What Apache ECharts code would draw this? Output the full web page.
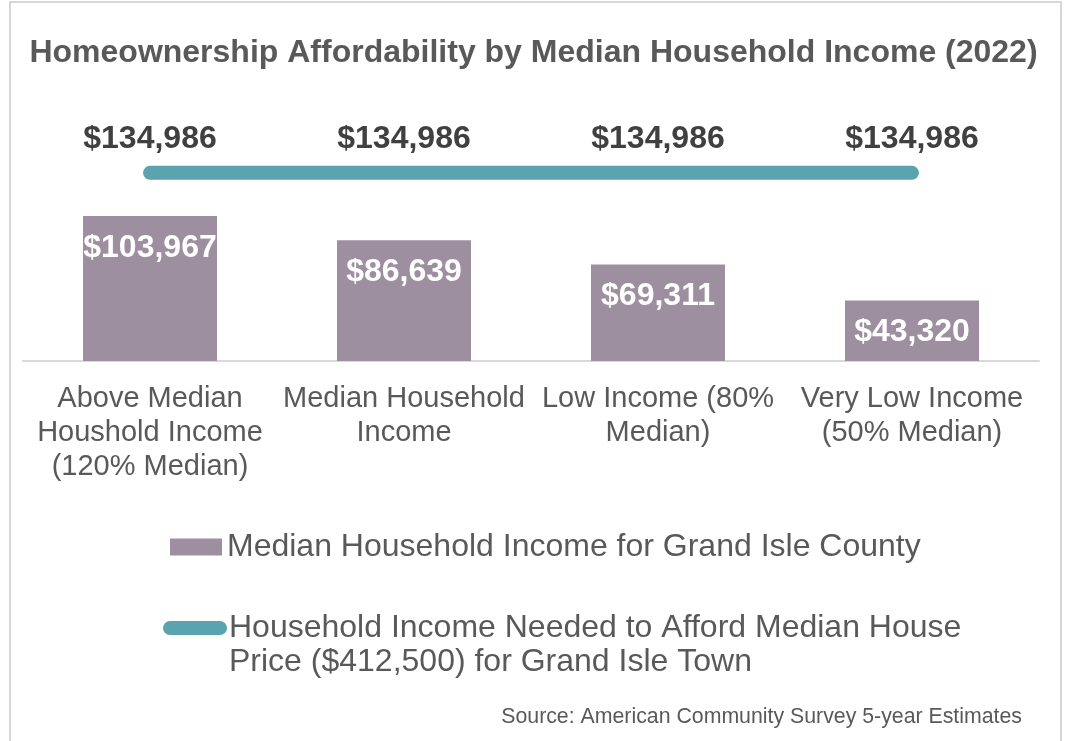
<!DOCTYPE html>
<html>
<head>
<meta charset="utf-8">
<script src="https://cdn.jsdelivr.net/npm/echarts@6/dist/echarts.min.js"></script>
<style>
  html, body { margin: 0; padding: 0; background: #fff; }
  #chart { width: 1067px; height: 741px; }
</style>
</head>
<body>
<div id="chart"></div>
<script>
// categories (x axis)
var categories = [
  'Above Median\nHoushold Income\n(120% Median)',
  'Median Household\nIncome',
  'Low Income (80%\nMedian)',
  'Very Low Income\n(50% Median)'
];
// median household income for the county
var incomeValues = [103967, 86639, 69311, 43320];
// income needed to afford the median house
var neededValues = [134986, 134986, 134986, 134986];

var barName = 'Median Household Income for Grand Isle County';
var lineName = 'Household Income Needed to Afford Median House Price ($412,500) for Grand Isle Town';

function money(v) {
  return '$' + v.toLocaleString('en-US');
}

var font = '"Liberation Sans", Arial, sans-serif';

var chart = echarts.init(document.getElementById('chart'));
var option = {
  animation: false,
  textStyle: { fontFamily: font },
  title: {
    text: 'Homeownership Affordability by Median Household Income (2022)',
    left: 'center',
    top: 32,
    textStyle: { fontFamily: font, fontSize: 32, fontWeight: 'bold', color: '#595959' }
  },
  graphic: [
    {
      type: 'rect',
      shape: { x: 10, y: 2, width: 1051, height: 800 },
      style: { fill: 'none', stroke: '#DAD5DC', lineWidth: 2 },
      silent: true
    },
    {
      type: 'text',
      right: 45,
      top: 707,
      style: {
        text: 'Source: American Community Survey 5-year Estimates',
        fontFamily: font,
        fontSize: 21.3,
        fill: '#595959'
      }
    }
  ],
  legend: [
    {
      left: 165,
      top: 525,
      itemWidth: 52,
      itemHeight: 17,
      itemGap: 6,
      data: [{ name: barName, icon: 'rect' }],
      textStyle: { fontFamily: font, fontSize: 32, color: '#595959', lineHeight: 34 }
    },
    {
      left: 158,
      top: 572,
      itemWidth: 64,
      itemHeight: 14,
      itemGap: 0,
      data: [{ name: lineName, icon: 'path://M7,0 L57,0 A7,7 0 0 1 57,14 L7,14 A7,7 0 0 1 7,0 Z' }],
      formatter: function (name) {
        // blank first line keeps the icon level with the first text line
        return '\n' + name.replace(' Price', '\nPrice');
      },
      textStyle: { fontFamily: font, fontSize: 32, color: '#595959', lineHeight: 34, padding: [0, 0, 0, -3] }
    }
  ],
  grid: { left: 23, right: 28, top: 131, bottom: 380, containLabel: false },
  xAxis: {
    type: 'category',
    data: categories,
    axisLine: { lineStyle: { color: '#D9D9D9', width: 2 } },
    axisTick: { show: false },
    axisLabel: {
      interval: 0,
      margin: 21,
      fontFamily: font,
      fontSize: 29,
      lineHeight: 34,
      color: '#595959'
    }
  },
  yAxis: {
    type: 'value',
    min: 0,
    max: 165000,
    show: false,
    splitLine: { show: false }
  },
  series: [
    {
      name: barName,
      type: 'bar',
      data: incomeValues,
      barWidth: 134,
      itemStyle: { color: '#9E8FA0' },
      label: {
        show: true,
        position: 'insideTop',
        distance: 16,
        formatter: function (p) { return money(p.value); },
        fontFamily: font,
        fontSize: 32,
        fontWeight: 'bold',
        color: '#FFFFFF'
      }
    },
    {
      name: lineName,
      type: 'line',
      data: neededValues,
      symbol: 'circle',
      symbolSize: 1,
      showSymbol: true,
      lineStyle: { color: '#5BA3AE', width: 14, cap: 'round' },
      itemStyle: { color: '#5BA3AE' },
      label: {
        show: true,
        position: 'top',
        distance: 17,
        formatter: function (p) { return money(p.value); },
        fontFamily: font,
        fontSize: 32,
        fontWeight: 'bold',
        color: '#404040'
      }
    }
  ]
};
chart.setOption(option);
</script>
</body>
</html>
